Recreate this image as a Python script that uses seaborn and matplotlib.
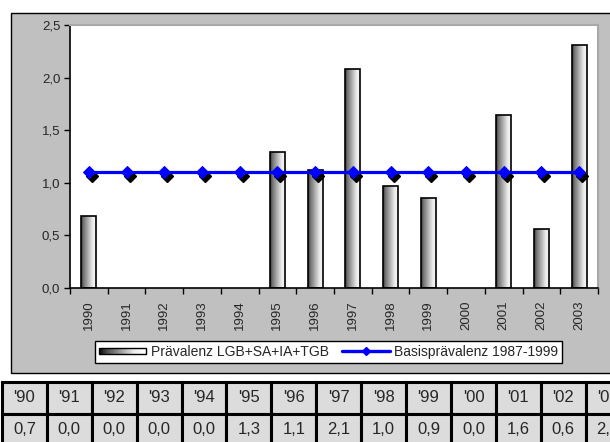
import numpy as np
import matplotlib
matplotlib.use("Agg")
import matplotlib.pyplot as plt
import matplotlib.transforms as mtransforms
from matplotlib.patches import Rectangle
from matplotlib.lines import Line2D
from matplotlib.legend_handler import HandlerBase
from matplotlib.ticker import FuncFormatter, FixedLocator
import seaborn as sns

# --- data -------------------------------------------------------------
years = ["1990", "1991", "1992", "1993", "1994", "1995", "1996",
         "1997", "1998", "1999", "2000", "2001", "2002", "2003"]
short_years = ["'90", "'91", "'92", "'93", "'94", "'95", "'96",
               "'97", "'98", "'99", "'00", "'01", "'02", "'03"]
praevalenz = [0.68, 0.0, 0.0, 0.0, 0.0, 1.29, 1.12,
              2.08, 0.97, 0.86, 0.0, 1.64, 0.56, 2.31]
basis = [1.1] * len(years)
yticks = [0.0, 0.5, 1.0, 1.5, 2.0, 2.5]

bar_label = "Prävalenz LGB+SA+IA+TGB"
line_label = "Basisprävalenz 1987-1999"

sns.set_style("white")
plt.rcParams["font.family"] = ["Liberation Sans", "DejaVu Sans"]

W, H = 610, 442
fig = plt.figure(figsize=(W / 100, H / 100), dpi=100)
fig.patch.set_facecolor("white")

def fx(px):
    return px / W

def fy(py):
    return (H - py) / H

# gray chart area
fig.add_artist(Rectangle((fx(11), fy(373)), fx(620) - fx(11), fy(13) - fy(373),
                         transform=fig.transFigure, facecolor="#c0c0c0",
                         edgecolor="black", lw=1.0, zorder=0))

ax = fig.add_axes([fx(70), fy(288), fx(598) - fx(70), fy(25) - fy(288)])
ax.set_facecolor("white")

# bars
sns.barplot(x=years, y=praevalenz, ax=ax, width=0.4, color="#b0b0b0",
            edgecolor="black", linewidth=1.2, saturation=1, zorder=2)

gradient = np.linspace(0, 1, 64)
cols = np.interp(gradient, [0, 0.15, 0.75, 1.0], [0.20, 0.45, 0.93, 0.97])
grad_img = np.tile(cols, (2, 1))
for p in list(ax.patches):
    x0, w, h = p.get_x(), p.get_width(), p.get_height()
    if h <= 0:
        p.set_visible(False)
        continue
    im = ax.imshow(grad_img, cmap="gray", vmin=0, vmax=1, aspect="auto",
                   extent=[x0, x0 + w, 0, h], zorder=2.5, interpolation="bilinear")
    im.set_clip_path(p)
    p.set_facecolor("none")
    p.set_zorder(3)

# baseline prevalence with dark marker shadow
pos = np.arange(len(years))
shadow = mtransforms.offset_copy(ax.transData, fig=fig, x=3, y=-4, units="dots")
ax.plot(pos, basis, linestyle="none", marker="D", markersize=6,
        color="black", transform=shadow, zorder=4)
sns.lineplot(x=pos, y=basis, ax=ax, color="#0000ff", linewidth=2.3,
             marker="D", markersize=6, markeredgecolor="#0000ff", zorder=5)

ax.set_xlim(-0.5, len(years) - 0.5)
ax.set_ylim(0, 2.5)
ax.set_xlabel("")
ax.set_ylabel("")

ax.set_yticks(yticks)
ax.yaxis.set_major_formatter(FuncFormatter(lambda v, _: f"{v:.1f}".replace(".", ",")))
ax.tick_params(axis="y", direction="out", length=4, width=1, color="black",
               labelsize=9.5, left=True, pad=3)
ax.set_xticks(pos)
ax.set_xticklabels(years, rotation=90)
ax.tick_params(axis="x", which="major", length=0, labelsize=9.5, pad=9)
ax.xaxis.set_minor_locator(FixedLocator(np.arange(-0.5, len(years), 1.0)))
ax.tick_params(axis="x", which="minor", direction="out", length=4, width=1,
               color="black", bottom=True)

for side in ["left", "bottom"]:
    ax.spines[side].set_color("black")
    ax.spines[side].set_linewidth(1.2)
ax.spines["top"].set_color("#a8a8a8")
ax.spines["right"].set_color("#a8a8a8")
ax.spines["top"].set_linewidth(1.5)
ax.spines["right"].set_linewidth(1.5)


class GradientHandler(HandlerBase):
    def create_artists(self, legend, orig_handle, xdescent, ydescent,
                       width, height, fontsize, trans):
        arts = []
        n = 24
        hh = height * 0.55
        y0 = -ydescent + (height - hh) / 2
        for i in range(n):
            g = np.interp(i / (n - 1), [0, 0.15, 0.75, 1.0], [0.05, 0.3, 0.93, 1.0])
            arts.append(Rectangle((-xdescent + width * i / n, y0), width / n + 0.3, hh,
                                  facecolor=(g, g, g), edgecolor="none", transform=trans))
        arts.append(Rectangle((-xdescent, y0), width, hh, facecolor="none",
                              edgecolor="black", lw=1.0, transform=trans))
        return arts


bar_handle = Rectangle((0, 0), 1, 1)
line_handle = Line2D([], [], color="#0000ff", lw=2.4, marker="D", markersize=4)
leg = fig.legend([bar_handle, line_handle], [bar_label, line_label],
                 handler_map={Rectangle: GradientHandler()},
                 loc="center", bbox_to_anchor=(fx(328.5), fy(352)), ncol=2,
                 frameon=True, fancybox=False, edgecolor="black", framealpha=1,
                 fontsize=10, handlelength=3.4, handletextpad=0.3,
                 columnspacing=1.0, borderpad=0.3, borderaxespad=0)
leg.get_frame().set_linewidth(1.0)

# data table below the chart
cell_w = 44.9
n = len(years)
tax = fig.add_axes([fx(2), fy(446), fx(2 + cell_w * n) - fx(2), fy(382) - fy(446)])
tax.set_xlim(0, n)
tax.set_ylim(0, 2)
tax.axis("off")
for i in range(n):
    for r, txt in [(1, short_years[i]), (0, f"{praevalenz[i]:.1f}".replace(".", ","))]:
        tax.add_patch(Rectangle((i, r), 1, 1, facecolor="#dcdcdc", edgecolor="black",
                                lw=2.2, clip_on=False))
        tax.text(i + 0.5, r + 0.52, txt, ha="center", va="center", fontsize=12,
                 clip_on=False)

fig.savefig("out.png", dpi=100)
